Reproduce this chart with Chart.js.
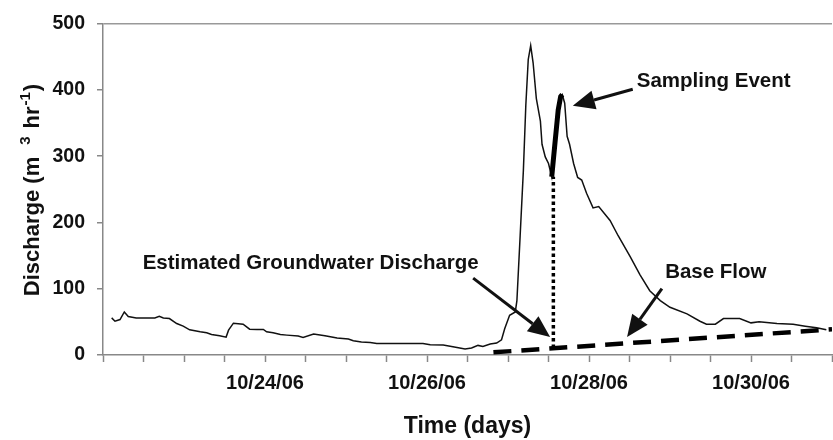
<!DOCTYPE html>
<html>
<head>
<meta charset="utf-8">
<script src="https://cdn.jsdelivr.net/npm/chart.js@4.4.1/dist/chart.umd.min.js"></script>
<style>
html,body{margin:0;padding:0;background:#fff;}
#wrap{width:833px;height:440px;}
</style>
</head>
<body>
<div id="wrap"><canvas id="c" width="833" height="440"></canvas></div>
<script>
// ---- data (x = days after 10/22/06 00:00) ----
const timeDays = [0.107,0.148,0.21,0.263,0.312,0.41,0.64,0.695,0.745,0.82,0.91,0.99,1.07,1.2,1.28,1.34,1.44,1.52,1.55,1.61,1.73,1.81,1.9,1.98,2.02,2.1,2.19,2.27,2.41,2.47,2.6,2.74,2.89,3.03,3.09,3.19,3.3,3.38,3.54,3.95,4.04,4.2,4.32,4.47,4.55,4.63,4.69,4.78,4.86,4.92,4.96,5.02,5.09,5.11,5.15,5.19,5.22,5.25,5.28,5.31,5.35,5.40,5.42,5.46,5.50,5.54,5.58,5.62,5.65,5.67,5.70,5.73,5.76,5.81,5.86,5.91,5.97,6.05,6.12,6.26,6.36,6.51,6.63,6.75,6.88,7.0,7.21,7.37,7.45,7.56,7.66,7.86,8.0,8.1,8.32,8.52,8.67,8.81,8.93];
const discharge = [56,51,53.5,65,58,56,56,58.5,56,55,47.5,43.5,38,35,33.5,31,29,27,37.5,48,46.5,39,38.5,38.5,35,33.5,31,30,28.5,26.5,31.5,29,25.5,24,21.5,19.5,19,17.5,17.5,17.5,15.5,15,12.5,9,10.5,14.5,13,16.5,18,23,40,60,65,82,180,279,377,446,467,441,387,353,318,299,289,269,320,370,390,393,380,330,318,289,268,264,244,222,224,203,180,148,121,97,82,72,62,51,46.5,46.5,55,55,48.5,50,47.5,46.5,43.5,41,38];
const samplingDays = [5.54,5.58,5.62,5.65,5.67];
const samplingDischarge = [269,320,370,390,393];
const baseFlowDays = [4.82,9.0];
const baseFlowDischarge = [4,38.7];
const groundwaterDays = [5.56,5.56];
const groundwaterDischarge = [10.5,269];
const xTickDays = [2,4,6,8];
const xTickLabels = ['10/24/06','10/26/06','10/28/06','10/30/06'];
const yTicks = [0,100,200,300,400,500];
const noteTexts = ['Sampling Event','Estimated Groundwater Discharge','Base Flow'];
const noteAt = [[6.59,413],[0.49,138.5],[6.94,125]];
const arrowFrom = [[6.54,401],[4.57,116],[6.90,100]];
const arrowTo = [[5.80,376],[5.52,27],[6.47,27]];
const yTitleParts = [['Discharge (m', false], ['3', true], ['hr', false], ['-1', true], [')', false]];
const xTitle = 'Time (days)';

const FONT = "'Liberation Sans', Arial, sans-serif";
const toXY = (xs, ys) => xs.map((x, i) => ({x: x, y: ys[i]}));

const notesPlugin = {
  id: 'notes',
  afterDatasetsDraw(chart) {
    const ctx = chart.ctx, sx = chart.scales.x, sy = chart.scales.y;
    ctx.save();
    ctx.fillStyle = '#111';
    ctx.strokeStyle = '#111';
    ctx.font = 'bold 20.5px ' + FONT;
    ctx.textBaseline = 'middle';
    ctx.textAlign = 'left';
    noteTexts.forEach((t, i) => {
      ctx.fillText(t, sx.getPixelForValue(noteAt[i][0]), sy.getPixelForValue(noteAt[i][1]));
    });
    arrowFrom.forEach((f, i) => {
      const x1 = sx.getPixelForValue(f[0]), y1 = sy.getPixelForValue(f[1]);
      const x2 = sx.getPixelForValue(arrowTo[i][0]), y2 = sy.getPixelForValue(arrowTo[i][1]);
      const ang = Math.atan2(y2 - y1, x2 - x1);
      const hl = 22, hw = 9.5;
      const bx = x2 - hl * Math.cos(ang), by = y2 - hl * Math.sin(ang);
      ctx.lineWidth = 3;
      ctx.beginPath();
      ctx.moveTo(x1, y1);
      ctx.lineTo(bx, by);
      ctx.stroke();
      ctx.beginPath();
      ctx.moveTo(x2, y2);
      ctx.lineTo(bx + hw * Math.sin(ang), by - hw * Math.cos(ang));
      ctx.lineTo(bx - hw * Math.sin(ang), by + hw * Math.cos(ang));
      ctx.closePath();
      ctx.fill();
    });
    ctx.restore();
  },
  afterDraw(chart) {
    // y-axis title with superscripts, rotated
    const ctx = chart.ctx;
    const mainF = 'bold 22px ' + FONT, supF = 'bold 15px ' + FONT;
    const gaps = [12, 8, 1, 1, 0];
    let total = 0;
    yTitleParts.forEach((p, i) => { ctx.font = p[1] ? supF : mainF; total += ctx.measureText(p[0]).width + gaps[i]; });
    ctx.save();
    ctx.translate(31, 190);
    ctx.rotate(-Math.PI / 2);
    ctx.fillStyle = '#111';
    ctx.textBaseline = 'alphabetic';
    ctx.textAlign = 'left';
    let x = -total / 2;
    yTitleParts.forEach((p, i) => {
      ctx.font = p[1] ? supF : mainF;
      ctx.fillText(p[0], x, p[1] ? -1.5 : 8);
      x += ctx.measureText(p[0]).width + gaps[i];
    });
    ctx.restore();
  }
};

new Chart(document.getElementById('c'), {
  type: 'line',
  data: {
    datasets: [
      {data: toXY(timeDays, discharge), borderColor: '#111', borderWidth: 1.5, pointRadius: 0, tension: 0, order: 3},
      {data: toXY(samplingDays, samplingDischarge), borderColor: '#000', borderWidth: 5, pointRadius: 0, tension: 0, order: 1},
      {data: toXY(baseFlowDays, baseFlowDischarge), borderColor: '#000', borderWidth: 4.5, borderDash: [18, 10], pointRadius: 0, tension: 0, order: 2},
      {data: toXY(groundwaterDays, groundwaterDischarge), borderColor: '#000', borderWidth: 3.5, borderDash: [3.5, 3], pointRadius: 0, tension: 0, order: 2}
    ]
  },
  options: {
    responsive: false,
    animation: false,
    events: [],
    layout: {padding: {top: 17, right: 1, left: 0, bottom: 0}},
    plugins: {legend: {display: false}, tooltip: {enabled: false}},
    scales: {
      x: {
        type: 'linear', min: 0, max: 9, position: 'bottom',
        afterFit: s => { s.height = 85; s.paddingLeft = 0; s.paddingRight = 0; },
        afterBuildTicks: s => { s.ticks = Array.from({length: 19}, (_, i) => ({value: i * 0.5})); },
        ticks: {
          autoSkip: false, maxRotation: 0, padding: 9, color: '#111',
          font: {family: FONT, size: 20, weight: 'bold'},
          callback: v => { const k = xTickDays.indexOf(v); return k >= 0 ? xTickLabels[k] : ''; }
        },
        grid: {drawOnChartArea: false, tickLength: 7, tickColor: '#888', tickWidth: 1.5},
        border: {color: '#888', width: 1.5},
        title: {display: true, text: xTitle, color: '#111', font: {family: FONT, size: 23, weight: 'bold'}, padding: {top: 0, bottom: 0}}
      },
      y: {
        min: 0, max: 500,
        afterFit: s => { s.width = 103; },
        afterBuildTicks: s => { s.ticks = yTicks.map(v => ({value: v})); },
        ticks: {padding: 12, color: '#111', font: {family: FONT, size: 19.5, weight: 'bold'}},
        grid: {color: c => (c.tick && c.tick.value === 500) ? '#999' : 'rgba(0,0,0,0)', lineWidth: 1.5, tickLength: 6, tickColor: '#888', tickWidth: 1.5},
        border: {color: '#888', width: 1.5},
        title: {display: false}
      }
    }
  },
  plugins: [notesPlugin]
});
</script>
</body>
</html>
